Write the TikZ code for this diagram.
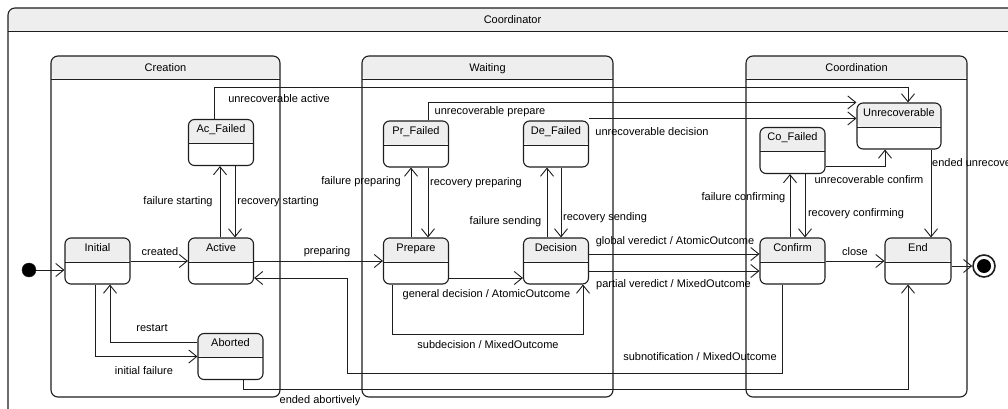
\documentclass[tikz,border=0pt]{standalone}
\usepackage{fontspec}
\setmainfont{Liberation Sans}
\usetikzlibrary{arrows.meta}
\definecolor{hdr}{RGB}{238,238,238}
\definecolor{ln}{RGB}{30,30,30}
\tikzset{
  hdrpic/.style={path picture={
      \fill[hdr] (path picture bounding box.north west) rectangle ([yshift=-#1]path picture bounding box.north east);
      \draw[ln,line width=1pt] ([yshift=-#1]path picture bounding box.north west) -- ([yshift=-#1]path picture bounding box.north east);}},
  state/.style={draw=ln, line width=1.1pt, rounded corners=6pt, minimum width=65pt, minimum height=46pt,
      inner sep=0pt, fill=white, hdrpic=24pt,
      label={[anchor=base,yshift=-14pt,inner sep=0pt]north:#1}},
  comp/.style={draw=ln, line width=1.1pt, rounded corners=7pt, inner sep=0pt, fill=white, hdrpic=24pt,
      label={[anchor=base,yshift=-16pt,inner sep=0pt]north:#1}},
  tr/.style={draw=ln, line width=0.9pt, -{Straight Barb[length=8pt,width=13pt]}},
  lbl/.style={inner sep=0pt},
  every node/.style={font=\fontsize{11}{13}\selectfont, text=black}
}
\begin{document}
\begin{tikzpicture}[x=1pt,y=-1pt]
\useasboundingbox (0,0) rectangle (1008,409);
\fill[white] (0,0) rectangle (1008,409);

% outer frame and composite states
\node[comp=Coordinator, minimum width=1009pt, minimum height=425pt] (coord) at (512.5,220.5) {};
\node[comp=Creation, minimum width=229pt, minimum height=341pt] (creation) at (165.5,226.5) {};
\node[comp=Waiting, minimum width=251pt, minimum height=341pt] (waiting) at (487.5,226.5) {};
\node[comp=Coordination, minimum width=221pt, minimum height=341pt] (coordination) at (856.5,226.5) {};

% pseudo states
\node[circle, fill=black, draw=ln, minimum size=14pt, inner sep=0pt] (ini) at (29,270) {};
\node[circle, draw=ln, fill=white, line width=1.6pt, minimum size=22pt, inner sep=0pt] (fin) at (984,266) {};
\node[circle, fill=black, minimum size=14pt, inner sep=0pt] (finin) at (fin) {};

% states
\node[state=Initial] (initst) at (97.5,261) {};
\node[state=Active] (act) at (221,261) {};
\node[state=Ac\_Failed] (acf) at (221,142.5) {};
\node[state=Aborted] (abt) at (230.5,356.5) {};
\node[state=Pr\_Failed] (prf) at (416,144) {};
\node[state=De\_Failed] (def) at (556,144) {};
\node[state=Prepare] (prep) at (416,261) {};
\node[state=Decision] (dec) at (556,261) {};
\node[state=Unrecoverable, minimum width=84pt] (unr) at (899,126) {};
\node[state=Co\_Failed] (cof) at (792.5,150.5) {};
\node[state=Confirm] (conf) at (792.5,261) {};
\node[state=End, minimum width=66pt] (end) at (918,261) {};

% transitions
\draw[tr] (ini.east) -- (ini.east -| initst.west);
\draw[tr] (initst.east) -- (act.west);
\draw[tr] ([xshift=-1pt]act.north) -- ([xshift=-1pt]acf.south);
\draw[tr] ([xshift=14pt]acf.south) -- ([xshift=14pt]act.north);
\draw[tr] ([xshift=-7pt]acf.north) |- ([xshift=9pt,yshift=15pt]unr.north) -- ([xshift=9pt]unr.north);
\draw[tr] ([xshift=12pt]prf.north) |- (unr.north west);
\draw[tr] ([yshift=2pt]def.north east) -- ([yshift=2pt]def.north east -| unr.west);
\draw[tr] ([xshift=-5pt]prep.north) -- ([xshift=-5pt]prf.south);
\draw[tr] ([xshift=12pt]prf.south) -- ([xshift=12pt]prep.north);
\draw[tr] ([xshift=-9pt]dec.north) -- ([xshift=-9pt]def.south);
\draw[tr] ([xshift=5pt]def.south) -- ([xshift=5pt]dec.north);
\draw[tr] (act.east) -- (prep.west);
\draw[tr] ([xshift=-10pt]conf.south) |- (347,373) -- (347,278) -- ([yshift=-17pt]act.east);
\draw[tr] ([yshift=-17pt]prep.east) -- ([yshift=-17pt]prep.east -| dec.west);
\draw[tr] ([xshift=-24pt]prep.south) |- ([xshift=27pt,yshift=-50pt]dec.south) -- ([xshift=27pt]dec.south);
\draw[tr] ([yshift=7pt]dec.east) -- ([yshift=7pt]dec.east -| conf.west);
\draw[tr] ([yshift=-10pt]dec.east) -- ([yshift=-10pt]dec.east -| conf.west);
\draw[tr] ([xshift=-2.5pt]conf.north) -- ([xshift=-2.5pt]cof.south);
\draw[tr] ([xshift=12.5pt]cof.south) -- ([xshift=12.5pt]conf.north);
\draw[tr] ([yshift=-16pt]cof.east) -| ([xshift=-14pt]unr.south);
\draw[tr] ([xshift=32pt]unr.south) -- ([xshift=13pt]end.north);
\draw[tr] (conf.east) -- (end.west);
\draw[tr] ([yshift=-5pt]end.east) -- (fin);
\draw[tr] ([xshift=-2.5pt]initst.south) |- (abt.west);
\draw[tr] ([yshift=14pt]abt.west) -| ([xshift=12.5pt]initst.south);
\draw[tr] ([xshift=12.5pt]abt.south) |- ([xshift=-10pt,yshift=-105pt]end.south) -- ([xshift=-10pt]end.south);

% transition labels
\node[lbl] (l1) at (160,252) {created};
\node[lbl] (l2) at (178,202) {failure starting};
\node[lbl] (l3) at (278,202) {recovery starting};
\node[lbl] (l4) at (279,99) {unrecoverable active};
\node[lbl] (l5) at (327,252) {preparing};
\node[lbl] (l6) at (490,112) {unrecoverable prepare};
\node[lbl] (l7) at (652,132) {unrecoverable decision};
\node[lbl] (l8) at (361,182) {failure preparing};
\node[lbl] (l9) at (476,183) {recovery preparing};
\node[lbl] (l10) at (505.5,222) {failure sending};
\node[lbl] (l11) at (605,218) {recovery sending};
\node[lbl] (l12) at (675,242) {global veredict / AtomicOutcome};
\node[lbl] (l13) at (673.5,285) {partial veredict / MixedOutcome};
\node[lbl] (l14) at (486.5,295) {general decision / AtomicOutcome};
\node[lbl] (l15) at (488,345) {subdecision / MixedOutcome};
\node[lbl] (l16) at (700,357) {subnotification / MixedOutcome};
\node[lbl] (l17) at (743.5,198) {failure confirming};
\node[lbl] (l18) at (856,214) {recovery confirming};
\node[lbl] (l19) at (869,180) {unrecoverable confirm};
\node[lbl, anchor=west] (l20) at (932,163) {ended unrecoverable};
\node[lbl] (l21) at (855,252) {close};
\node[lbl] (l22) at (152,328) {restart};
\node[lbl] (l23) at (144,371) {initial failure};
\node[lbl] (l24) at (320,401) {ended abortively};
\end{tikzpicture}
\end{document}
